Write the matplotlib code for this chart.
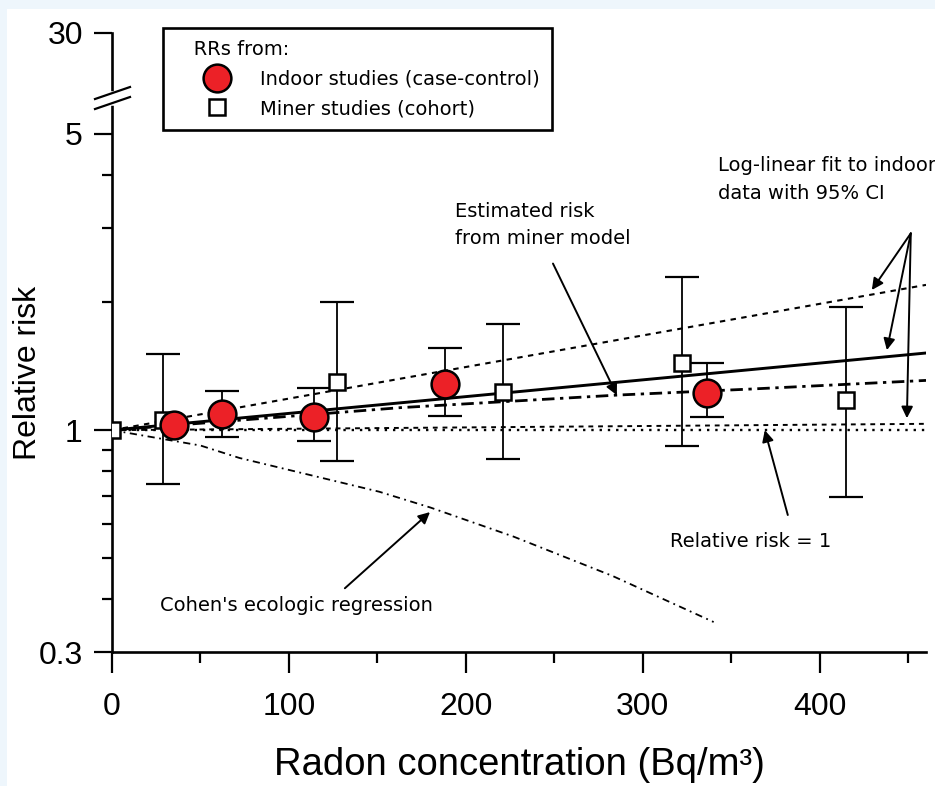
import numpy as np
import matplotlib
matplotlib.use('Agg')
from matplotlib import pyplot as plt
from matplotlib import transforms as mtransforms
from matplotlib.lines import Line2D
from matplotlib.patches import Rectangle


# Данные
miner_x = [0, 29, 127, 221, 322, 415]
miner_rr = [1.0, 1.055, 1.296, 1.228, 1.443, 1.176]
miner_lo = [np.nan, 0.748, 0.846, 0.855, 0.917, 0.697]
miner_hi = [np.nan, 1.515, 2.0, 1.78, 2.29, 1.95]

indoor_x = [35, 62, 114, 188, 336]
indoor_rr = [1.027, 1.09, 1.073, 1.288, 1.221]
indoor_lo = [np.nan, 0.963, 0.942, 1.078, 1.073]
indoor_hi = [np.nan, 1.234, 1.254, 1.564, 1.443]

fit_x = [0, 460]
fit_rr = [1.0, 1.52]
fit_hi_rr = [1.0, 2.2]
fit_lo_rr = [1.0, 1.035]
null_rr = [1.0, 1.0]

miner_model_x = [0, 163, 286, 361, 460]
miner_model_rr = [1.0, 1.13, 1.21, 1.25, 1.31]

cohen_x = [0, 50, 72, 151, 180, 227, 283, 340]
cohen_rr = [1.0, 0.92, 0.86, 0.716, 0.657, 0.561, 0.453, 0.353]

y_major = [0.3, 1, 5, 30]
y_major_labels = ['0.3', '1', '5', '30']
y_minor = [0.4, 0.5, 0.6, 0.7, 0.8, 0.9, 2, 3, 4]
x_major = [0, 100, 200, 300, 400]
x_minor = [50, 150, 250, 350, 450]

RED = '#EC2127'
BIG = ['Liberation Sans', 'DejaVu Sans']
SMALL = ['DejaVu Sans']
FS = 14

# разрыв оси: выше 6 шкала сжата
BRK = 6.0
K = 0.226


def fwd(y):
    ly = np.log10(np.clip(np.asarray(y, float), 1e-6, None))
    lb = np.log10(BRK)
    return np.where(ly <= lb, ly, lb + (ly - lb) * K)


def inv(v):
    v = np.asarray(v, float)
    lb = np.log10(BRK)
    return np.where(v <= lb, 10 ** v, 10 ** (lb + (v - lb) / K))


fig = plt.figure(figsize=(9.35, 7.86), dpi=100)
fig.patch.set_facecolor('#EEF6FC')
fig.add_artist(Rectangle((7 / 935, 0), 1, 1 - 9 / 786, transform=fig.transFigure,
                         facecolor='white', edgecolor='none', zorder=-10))

ax = fig.add_axes([112 / 935, 1 - 652 / 786, (926 - 112) / 935, (652 - 33) / 786])
ax.set_facecolor('none')
ax.set_yscale('function', functions=(fwd, inv))
ax.set_xlim(0, 460)
ax.set_ylim(0.3, 30)

# линии
ax.plot(fit_x, null_rr, color='k', lw=1.7, ls=(0, (1, 2.5)))
ax.plot(fit_x, fit_lo_rr, color='k', lw=1.4, ls=(0, (2.5, 2.5)))
ax.plot(fit_x, fit_rr, color='k', lw=2.1, ls='-')
ax.plot(fit_x, fit_hi_rr, color='k', lw=1.5, ls=(0, (2.6, 2.6)))
ax.plot(miner_model_x, miner_model_rr, color='k', lw=2.0, ls=(0, (4.5, 2, 1.2, 2)))
ax.plot(cohen_x, cohen_rr, color='k', lw=1.3, ls=(0, (4, 2.5, 1, 2.5)))

# доверительные интервалы
for xs, rr, lo, hi in [(miner_x, miner_rr, miner_lo, miner_hi),
                       (indoor_x, indoor_rr, indoor_lo, indoor_hi)]:
    xs, rr, lo, hi = map(np.asarray, (xs, rr, lo, hi))
    m = ~np.isnan(lo)
    ax.errorbar(xs[m], rr[m], yerr=[rr[m] - lo[m], hi[m] - rr[m]], fmt='none',
                ecolor='k', elinewidth=1.3, capsize=12, capthick=1.6, zorder=3)

ax.plot(miner_x, miner_rr, 's', ms=12, mfc='white', mec='k', mew=1.8, zorder=4)
ax.plot(indoor_x, indoor_rr, 'o', ms=20, mfc=RED, mec='k', mew=1.8, zorder=5)

# оси
for s in ['top', 'right']:
    ax.spines[s].set_visible(False)
for s in ['left', 'bottom']:
    ax.spines[s].set_linewidth(1.9)
ax.set_yticks(y_major)
ax.set_yticklabels(y_major_labels)
ax.set_yticks(y_minor, minor=True)
ax.yaxis.set_minor_formatter(plt.NullFormatter())
ax.set_xticks(x_major)
ax.set_xticks(x_minor, minor=True)
ax.tick_params(axis='y', which='major', direction='out', length=13, width=1.6, pad=8)
ax.tick_params(axis='y', which='minor', direction='out', length=7, width=1.6)
ax.tick_params(axis='x', which='major', direction='out', length=15, width=1.6, pad=14)
ax.tick_params(axis='x', which='minor', direction='out', length=8, width=1.6)
for lab in ax.get_xticklabels() + ax.get_yticklabels():
    lab.set_family(BIG)
    lab.set_fontsize(23)

ax.set_xlabel('Radon concentration (Bq/m³)', family=BIG, fontsize=27.5, labelpad=18)
ax.set_ylabel('Relative risk', family=BIG, fontsize=23, va='center')
ax.yaxis.set_label_coords(-0.103, 0.451)

# значки разрыва
brk = fig.dpi_scale_trans + mtransforms.ScaledTranslation(0, BRK, ax.transData)
ax.plot([0, 0], [-0.03, 0.065], color='white', lw=4, transform=brk, clip_on=False, zorder=6)
ax.plot([-0.17, 0.18], [0.01, 0.13], color='k', lw=1.6, transform=brk, clip_on=False, zorder=7)
ax.plot([-0.17, 0.18], [-0.09, 0.03], color='k', lw=1.6, transform=brk, clip_on=False, zorder=7)

# подписи и стрелки
arr = dict(arrowstyle='-|>', color='k', lw=1.4, mutation_scale=17, shrinkA=0, shrinkB=0)
ax.text(342.4, 3.9, 'Log-linear fit to indoor\ndata with 95% CI', family=SMALL, fontsize=FS,
        ha='left', va='center', linespacing=1.55, clip_on=False)
for tip in [(429.4, 2.14), (437.9, 1.544), (449.2, 1.067)]:
    ax.annotate('', xy=tip, xytext=(451.4, 2.91), arrowprops=arr, annotation_clip=False)

ax.text(193.8, 3.05, 'Estimated risk\nfrom miner model', family=SMALL, fontsize=FS,
        ha='left', va='center', linespacing=1.55)
ax.annotate('', xy=(285.3, 1.209), xytext=(249.2, 2.47), arrowprops=arr)

ax.text(315.3, 0.545, 'Relative risk = 1', family=SMALL, fontsize=FS, ha='left', va='center')
ax.annotate('', xy=(368.9, 1.0), xytext=(381.9, 0.631), arrowprops=arr)

ax.text(27.1, 0.387, "Cohen's ecologic regression", family=SMALL, fontsize=FS,
        ha='left', va='center')
ax.annotate('', xy=(179.7, 0.641), xytext=(131.6, 0.424), arrowprops=arr)

# легенда
handles = [Line2D([], [], ls='none', marker='o', ms=20, mfc=RED, mec='k', mew=1.8),
           Line2D([], [], ls='none', marker='s', ms=12, mfc='white', mec='k', mew=1.8)]
leg = fig.legend(handles, ['Indoor studies (case-control)', 'Miner studies (cohort)'],
                 title='   RRs from:', alignment='left', loc='upper left',
                 bbox_to_anchor=(163 / 935, 1 - 28 / 786), bbox_transform=fig.transFigure,
                 borderaxespad=0, fancybox=False, framealpha=1, edgecolor='k',
                 prop={'family': SMALL, 'size': FS},
                 title_fontproperties={'family': SMALL, 'size': FS},
                 handlelength=4.4, handletextpad=0.0, labelspacing=0.55, borderpad=0.6)
leg.get_frame().set_linewidth(1.9)

fig.savefig('out.png', dpi=100, facecolor=fig.get_facecolor())
